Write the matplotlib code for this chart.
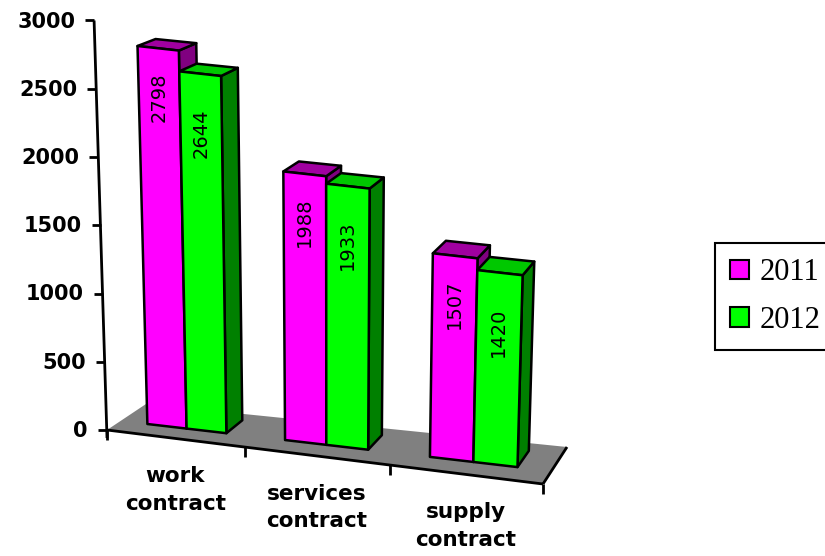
import numpy as np
import matplotlib
matplotlib.use("Agg")
import matplotlib.pyplot as plt
from matplotlib.patches import Polygon, Patch

categories = ["work\ncontract", "services\ncontract", "supply\ncontract"]
years = ["2011", "2012"]
values_2011 = [2798, 1988, 1507]
values_2012 = [2644, 1933, 1420]
y_ticks = [0, 500, 1000, 1500, 2000, 2500, 3000]

front_colors = ["#ff00ff", "#00ff00"]
top_colors = ["#a000a0", "#00c800"]
side_colors = ["#800080", "#008000"]

# floor of the 3d box, in pixels: front-left, front-right, back-right, back-left
FL = np.array([107.0, 430.0])
FR = np.array([543.0, 484.0])
BR = np.array([567.0, 447.0])
BL = np.array([146.0, 404.0])
persp = 1.08       # foreshortening along the category axis
vx = 330.0         # x of the vanishing point of the verticals
lean = 1.93e-5     # how much verticals spread out going up
n_cat = len(categories)


def floor(u, w):
    s = u / n_cat
    t = s / (s + persp * (1 - s))
    front = FL + (FR - FL) * t
    back = BL + (BR - BL) * t
    return front + (back - front) * w


def proj(u, w, v):
    x, y = floor(u, w)
    k = 0.1365 - 0.004 * w
    return np.array([x + (x - vx) * v * lean, y - v * k])


fig = plt.figure(figsize=(8.25, 5.56), dpi=100)
ax = fig.add_axes([0, 0, 1, 1])
ax.set_xlim(0, 825)
ax.set_ylim(556, 0)
ax.axis("off")

# floor
ax.add_patch(Polygon([floor(0, 0), floor(n_cat, 0), floor(n_cat, 1), floor(0, 1)],
                     closed=True, facecolor="#808080", edgecolor="none", zorder=1))
line_kw = dict(color="black", lw=2, solid_capstyle="butt", zorder=2)
for a, b in [((0, 0), (n_cat, 0)), ((n_cat, 0), (n_cat, 1))]:
    p, q = floor(*a), floor(*b)
    ax.plot([p[0], q[0]], [p[1], q[1]], **line_kw)
for i in range(n_cat + 1):
    p = floor(i, 0)
    ax.plot([p[0], p[0]], [p[1], p[1] + 10], **line_kw)

# value axis
p0, p1 = proj(0, 0, 0), proj(0, 0, y_ticks[-1])
ax.plot([p0[0], p1[0]], [p0[1] + 8, p1[1]], **line_kw)
for v in y_ticks:
    p = proj(0, 0, v)
    ax.plot([p[0] - 9, p[0]], [p[1], p[1]], **line_kw)
    ax.text(p[0] - 19, p[1] + 1, str(v), ha="right", va="center",
            fontsize=15, fontweight="bold", family="DejaVu Sans")

# bars
bar_w = 0.29
w0, w1 = 0.35, 0.8
label_off = [360, 440]
for i in range(n_cat):
    for j, vals in enumerate([values_2011, values_2012]):
        v = vals[i]
        u0 = i + 0.2 + j * bar_w
        u1 = u0 + bar_w
        faces = [
            ([proj(u1, w0, 0), proj(u1, w1, 0), proj(u1, w1, v), proj(u1, w0, v)], side_colors[j]),
            ([proj(u0, w0, v), proj(u1, w0, v), proj(u1, w1, v), proj(u0, w1, v)], top_colors[j]),
            ([proj(u0, w0, 0), proj(u1, w0, 0), proj(u1, w0, v), proj(u0, w0, v)], front_colors[j]),
        ]
        for pts, c in faces:
            ax.add_patch(Polygon(pts, closed=True, facecolor=c, edgecolor="black",
                                 lw=1.8, joinstyle="round", zorder=3))
        t = proj((u0 + u1) / 2, w0, v - label_off[j])
        ax.text(t[0], t[1], str(v), rotation=90, ha="center", va="center",
                fontsize=14, family="DejaVu Sans", zorder=4)

# category labels
for i, cat in enumerate(categories):
    p = floor(i + 0.5, 0)
    ax.text(p[0], p[1] + 28, cat, ha="center", va="top", multialignment="center",
            fontsize=15.5, fontweight="bold", family="DejaVu Sans", linespacing=1.45)

handles = [Patch(facecolor=c, edgecolor="black", lw=1.5) for c in front_colors]
leg = ax.legend(handles, years, loc="upper left",
                bbox_to_anchor=(715 / 825, 1 - 243 / 556), bbox_transform=fig.transFigure,
                prop={"family": "Liberation Serif", "size": 22},
                frameon=True, fancybox=False, edgecolor="black", framealpha=1,
                handlelength=0.6, handleheight=0.6, handletextpad=0.35,
                labelspacing=0.6, borderpad=0.5, borderaxespad=0)
leg.get_frame().set_linewidth(1.5)

fig.savefig("out.png", dpi=100)
